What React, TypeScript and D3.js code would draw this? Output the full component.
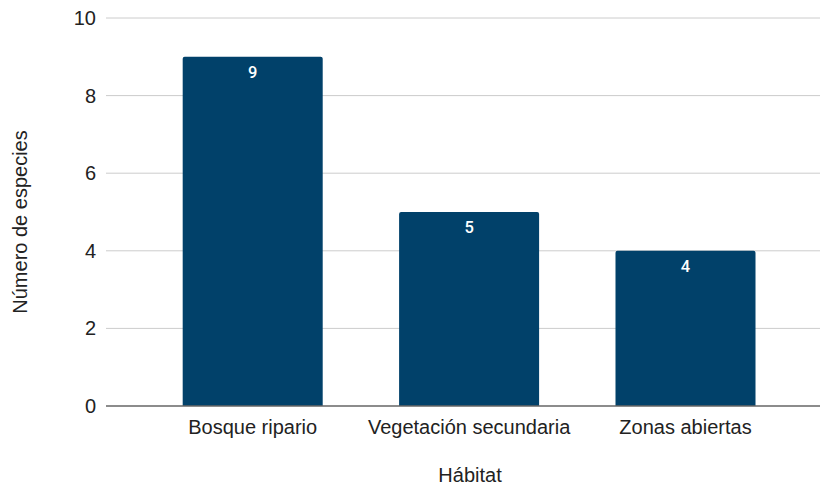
import React from "react";
import * as d3 from "d3";

const categories = ["Bosque ripario", "Vegetación secundaria", "Zonas abiertas"];
const values = [9, 5, 4];
const yTicks = [0, 2, 4, 6, 8, 10];

const W = 820;
const H = 489;

export default function App() {
  const x = d3
    .scaleBand<string>()
    .domain(categories)
    .range([144.5, 793.7])
    .paddingInner(0.353)
    .paddingOuter(0.1765);
  const y = d3.scaleLinear().domain([0, 10]).range([406, 18]);
  const font = "Liberation Sans, Arial, sans-serif";
  const r = 2;
  return (
    <svg width={W} height={H} style={{ position: "absolute", left: 0, top: 0 }}>
      <rect width={W} height={H} fill="#fff" />
      {yTicks.filter((t) => t !== 0).map((t) => (
        <line key={t} x1={106} x2={820} y1={y(t)} y2={y(t)} stroke="#cccccc" strokeWidth={1} />
      ))}
      {yTicks.map((t) => (
        <text key={t} x={96} y={y(t)} dy="0.35em" textAnchor="end" fontFamily={font} fontSize={20} fill="#222">
          {t}
        </text>
      ))}
      {categories.map((c, i) => {
        const x0 = x(c)!;
        const bw = x.bandwidth();
        const y0 = y(values[i]);
        const y1 = y(0);
        const d = `M${x0},${y1}V${y0 + r}Q${x0},${y0} ${x0 + r},${y0}H${x0 + bw - r}Q${x0 + bw},${y0} ${x0 + bw},${y0 + r}V${y1}Z`;
        return (
          <g key={c}>
            <path d={d} fill="#01416a" />
            <text x={x0 + bw / 2} y={y0 + 21} textAnchor="middle" fontFamily="Roboto, sans-serif" fontWeight={500} fontSize={16.5} fill="#fff">
              {values[i]}
            </text>
            <text x={x0 + bw / 2} y={434} textAnchor="middle" fontFamily={font} fontSize={20} fill="#222">
              {c}
            </text>
          </g>
        );
      })}
      <line x1={106} x2={820} y1={y(0)} y2={y(0)} stroke="#666" strokeWidth={1.5} />
      <text x={470} y={482} textAnchor="middle" fontFamily={font} fontSize={20} fill="#222">
        Hábitat
      </text>
      <text transform={`translate(27,222) rotate(-90)`} textAnchor="middle" fontFamily={font} fontSize={20} fill="#222">
        Número de especies
      </text>
    </svg>
  );
}
